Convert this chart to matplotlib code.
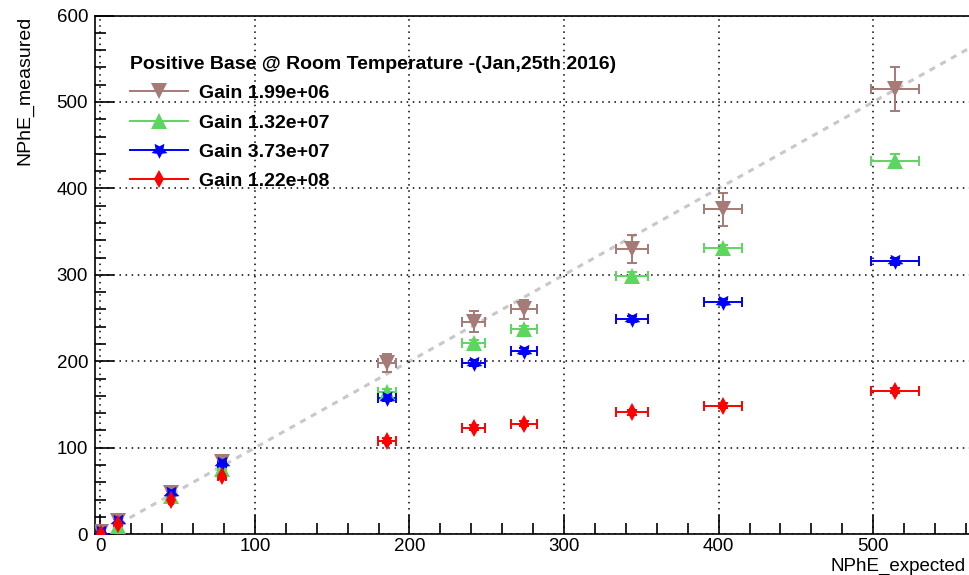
import matplotlib.pyplot as plt
from matplotlib.lines import Line2D
from matplotlib.ticker import MultipleLocator

plt.rcParams["font.family"] = ["Liberation Sans", "DejaVu Sans"]

# expected photo-electrons (x) and horizontal errors
nphe_exp = [0.5, 11.7, 45.5, 78.7, 185.5, 241.5, 274.0, 344.0, 403.0, 514.0]
nphe_exp_err = [0.0, 0.4, 1.4, 2.4, 5.8, 7.4, 8.6, 10.4, 12.2, 15.5]

title = "Positive Base @ Room Temperature -(Jan,25th 2016)"

# measured photo-electrons per gain setting
gain_199e06 = [3, 15.5, 48, 83, 198, 246, 260, 330, 376, 515]
gain_199e06_err = [1.5, 2, 3, 4, 10, 12, 11, 16, 19, 25]
gain_132e07 = [0, 9, 44, 75, 164, 221, 237, 299, 331, 432]
gain_132e07_err = [1, 2, 2.5, 3, 4, 4, 4, 4, 4, 8]
gain_373e07 = [3, 15, 47.5, 82, 157, 198, 212, 249, 269, 315.5]
gain_373e07_err = [1, 2, 2.5, 3, 3, 3, 3, 3, 3, 4]
gain_122e08 = [0, 11.5, 40, 67, 108, 123, 128, 141, 148.5, 166]
gain_122e08_err = [1, 1.5, 2, 3, 3, 3, 3, 3, 3, 3]

series = [
    ("Gain 1.99e+06", gain_199e06, gain_199e06_err, "#a57a77", "v", 12),
    ("Gain 1.32e+07", gain_132e07, gain_132e07_err, "#5cd65c", "^", 12),
    ("Gain 3.73e+07", gain_373e07, gain_373e07_err, "#0000ff", (5, 1, 180), 12),
    ("Gain 1.22e+08", gain_122e08, gain_122e08_err, "#ff0000", "d", 9),
]

fig = plt.figure(figsize=(9.69, 5.75), dpi=100)
ax = fig.add_axes([0.098, 0.071, 0.902, 0.902])

line_x = [12, 565]
ax.plot(line_x, line_x, color="#c8c8c8", lw=2.2, ls=(0, (2, 2)), zorder=1)

handles = []
for label, y, yerr, color, marker, ms in series:
    ax.errorbar(nphe_exp, y, xerr=nphe_exp_err, yerr=yerr, fmt="none",
                ecolor=color, elinewidth=1.4, capsize=3.5, capthick=1.4,
                zorder=3)
    ax.plot(nphe_exp, y, ls="none", marker=marker, color=color, ms=ms,
            mew=0, zorder=4)
    handles.append(Line2D([], [], color=color, marker=marker, ms=ms, mew=0,
                          lw=1.4, label=label))

ax.set_xlim(-3.5, 562)
ax.set_ylim(0, 600)
ax.xaxis.set_major_locator(MultipleLocator(100))
ax.xaxis.set_minor_locator(MultipleLocator(20))
ax.yaxis.set_major_locator(MultipleLocator(100))
ax.yaxis.set_minor_locator(MultipleLocator(20))
ax.tick_params(which="both", direction="in", labelsize=13.5, width=1.2,
               top=False, right=False)
ax.tick_params(which="major", length=14)
ax.tick_params(which="minor", length=8)
ax.tick_params(axis="x", pad=3)
ax.tick_params(axis="y", pad=5)
ax.grid(True, which="major", color="black", ls=(0, (1, 3)), lw=1.1)
for s in ["left", "bottom", "top"]:
    ax.spines[s].set_linewidth(1.2)
ax.spines["right"].set_visible(False)

fig.text(0.026, 0.973, "NPhE_measured", rotation=90, ha="center", va="top",
         fontsize=14)
fig.text(0.997, 0.0, "NPhE_expected", ha="right", va="bottom", fontsize=13.5)

leg = ax.legend(handles=handles, loc="upper left",
                bbox_to_anchor=(0.031, 0.937), frameon=False, title=title,
                handlelength=3.0, handletextpad=0.55, labelspacing=0.6,
                borderaxespad=0, prop={"weight": "bold", "size": 14})
leg.get_title().set_fontweight("bold")
leg.get_title().set_fontsize(14)
leg._legend_box.align = "left"

fig.savefig("out.png", dpi=100)
